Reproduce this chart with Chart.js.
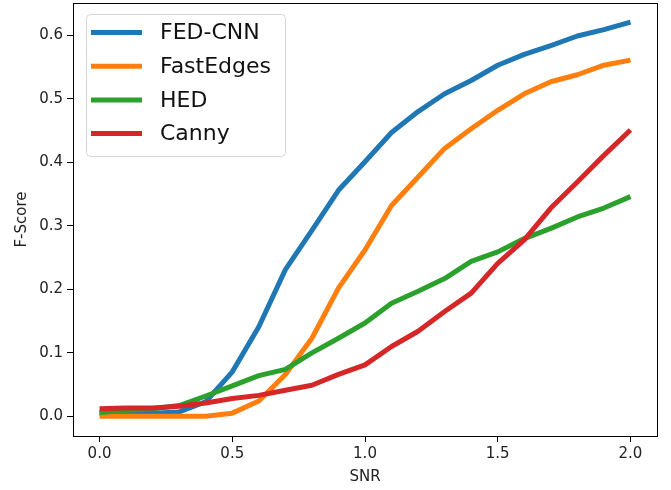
<!DOCTYPE html>
<html>
<head>
<meta charset="utf-8">
<script src="https://cdn.jsdelivr.net/npm/chart.js@4"></script>
<style>
html,body{margin:0;padding:0;background:#fff;}
#wrap{width:671px;height:490px;}
</style>
</head>
<body>
<div id="wrap"><canvas id="c" width="671" height="490"></canvas></div>
<script>
const snr = [0.0,0.1,0.2,0.3,0.4,0.5,0.6,0.7,0.8,0.9,1.0,1.1,1.2,1.3,1.4,1.5,1.6,1.7,1.8,1.9,2.0];
const fedCnn = [0.005,0.005,0.005,0.007,0.023,0.070,0.141,0.231,0.293,0.356,0.401,0.447,0.480,0.508,0.529,0.553,0.570,0.584,0.599,0.609,0.621];
const fastEdges = [0.000,0.000,0.000,0.000,0.000,0.005,0.024,0.066,0.123,0.202,0.262,0.332,0.377,0.422,0.453,0.482,0.508,0.527,0.538,0.553,0.561];
const hed = [0.006,0.009,0.012,0.017,0.032,0.048,0.064,0.074,0.100,0.123,0.147,0.178,0.197,0.217,0.244,0.259,0.280,0.296,0.314,0.328,0.346];
const canny = [0.012,0.013,0.013,0.016,0.021,0.028,0.033,0.041,0.049,0.066,0.081,0.110,0.134,0.165,0.194,0.241,0.278,0.328,0.369,0.411,0.451];
const seriesNames = ['FED-CNN','FastEdges','HED','Canny'];
const xTicks = [0.0,0.5,1.0,1.5,2.0];
const yTicks = [0.0,0.1,0.2,0.3,0.4,0.5,0.6];

const colors = ['#1f77b4','#ff7f0e','#2ca02c','#d62728'];
const allSeries = [fedCnn, fastEdges, hed, canny];

const datasets = allSeries.map((s,i)=>({
  label: seriesNames[i],
  data: snr.map((x,j)=>({x:x,y:s[j]})),
  borderColor: colors[i],
  backgroundColor: colors[i],
  borderWidth: 5,
  pointRadius: 0,
  tension: 0,
  fill: false,
  order: 4 - i,
  borderCapStyle: 'butt',
  borderJoinStyle: 'round'
}));

const frame = {
  id: 'frame',
  afterDatasetsDraw(chart){
    const {ctx, chartArea:a} = chart;
    ctx.save();
    ctx.strokeStyle = '#000';
    ctx.lineWidth = 1;
    ctx.strokeRect(Math.round(a.left)+0.5, Math.round(a.top)+0.5, Math.round(a.right-a.left), Math.round(a.bottom-a.top));
    // legend
    const bx = 86, by = 14, bw = 199, bh = 142;
    ctx.fillStyle = 'rgba(255,255,255,0.8)';
    ctx.strokeStyle = '#d6d6d6';
    ctx.lineWidth = 1;
    ctx.beginPath();
    if (ctx.roundRect) ctx.roundRect(bx+0.5, by+0.5, bw, bh, 4); else ctx.rect(bx+0.5, by+0.5, bw, bh);
    ctx.fill(); ctx.stroke();
    ctx.font = '22px "DejaVu Sans"';
    ctx.textBaseline = 'middle';
    ctx.textAlign = 'left';
    seriesNames.forEach((n,i)=>{
      const y = 32.5 + i*33.7;
      ctx.strokeStyle = colors[i];
      ctx.lineWidth = 5;
      ctx.lineCap = 'butt';
      ctx.beginPath(); ctx.moveTo(91, y); ctx.lineTo(142, y); ctx.stroke();
      ctx.fillStyle = '#111';
      ctx.fillText(n, 160, y+1);
    });
    ctx.restore();
  }
};

new Chart(document.getElementById('c'), {
  type: 'line',
  data: { datasets },
  options: {
    responsive: false,
    animation: false,
    devicePixelRatio: 1,
    layout: { padding: { top: 3, right: 14, left: 0, bottom: 0 } },
    plugins: { legend: { display: false }, tooltip: { enabled: false } },
    scales: {
      x: {
        type: 'linear', min: -0.1, max: 2.1,
        afterFit(s){ s.height = 54; s.paddingLeft = 0; s.paddingRight = 0; },
        afterBuildTicks(s){ s.ticks = xTicks.map(v=>({value:v})); },
        grid: { display: true, drawOnChartArea: false, tickLength: 6, color: '#000', tickColor: '#000' },
        border: { display: true, color: '#000' },
        ticks: { color: '#222', font: { family: 'DejaVu Sans', size: 15 }, padding: 3, maxRotation: 0, callback: v => v.toFixed(1) },
        title: { display: true, text: 'SNR', color: '#222', font: { family: 'DejaVu Sans', size: 15 }, padding: { top: 0, bottom: 4 } }
      },
      y: {
        type: 'linear', min: -0.031, max: 0.651,
        afterFit(s){ s.width = 73; s.paddingTop = 0; s.paddingBottom = 0; },
        afterBuildTicks(s){ s.ticks = yTicks.map(v=>({value:v})); },
        grid: { display: true, drawOnChartArea: false, tickLength: 6, color: '#000', tickColor: '#000' },
        border: { display: true, color: '#000' },
        ticks: { color: '#222', font: { family: 'DejaVu Sans', size: 15 }, padding: 4, callback: v => v.toFixed(1) },
        title: { display: true, text: 'F-Score', color: '#222', font: { family: 'DejaVu Sans', size: 15 }, padding: { top: 13, bottom: 0 } }
      }
    }
  },
  plugins: [frame]
});
</script>
</body>
</html>
